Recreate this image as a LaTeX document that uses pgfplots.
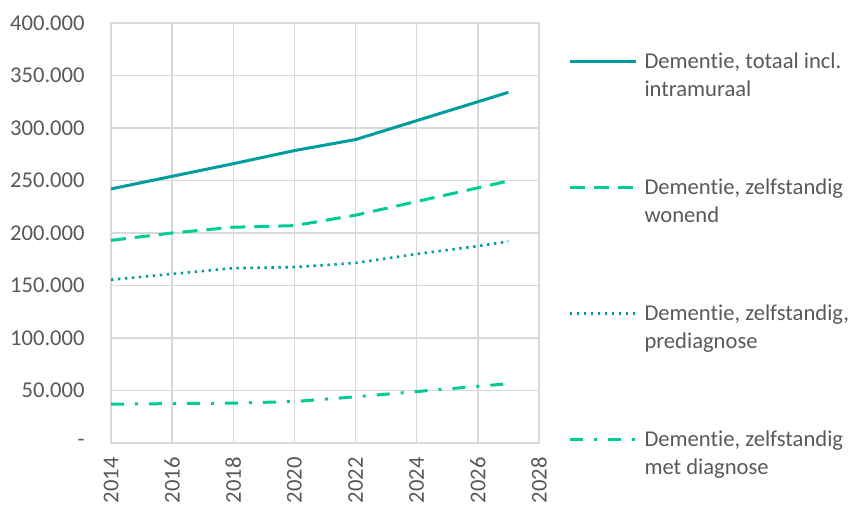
\documentclass[border=0pt]{standalone}
\usepackage{pgfplots}
\pgfplotsset{compat=1.18}
\usepackage{fontspec}
\setmainfont[Ligatures=NoCommon]{Carlito}
\definecolor{teal1}{RGB}{0,156,159}
\definecolor{green1}{RGB}{0,204,150}
\definecolor{txt}{RGB}{89,89,89}
\definecolor{gridc}{RGB}{217,217,217}
\newcommand{\two}[2]{\begin{tabular}[t]{@{}l@{}}#1\\#2\end{tabular}}
\begin{document}
\fontsize{11.3pt}{14pt}\selectfont
\begin{tikzpicture}
\useasboundingbox (-55.5pt,-30.5pt) rectangle (370pt,221.5pt);
\begin{axis}[
  at={(0,0)}, anchor=south west,
  scale only axis, width=214pt, height=210pt,
  xmin=2014, xmax=2028, ymin=0, ymax=400000,
  scaled y ticks=false,
  xtick={2014,2016,...,2028},
  ytick={0,50000,...,400000},
  yticklabels={-\hspace{6pt},50.000,100.000,150.000,200.000,250.000,300.000,350.000,400.000},
  xticklabels={2014,2016,2018,2020,2022,2024,2026,2028},
  xticklabel style={yshift=-7pt, rotate=90, anchor=east, inner sep=0pt, text=txt},
  yticklabel style={anchor=east, inner sep=0pt, xshift=-13pt, text=txt},
  grid=major,
  major grid style={draw=gridc, line width=0.75pt},
  axis line style={draw=gridc, line width=0.75pt},
  major tick length=0pt,
  legend style={at={(1.068,0.940)}, anchor=north west, draw=none, fill=none,
    inner sep=0pt, row sep=51.5pt, column sep=3.5pt,
    nodes={inner sep=0pt},
    cells={anchor=base west, text=txt}},
  legend image code/.code={\draw[#1] (0pt,0.3em) -- (33pt,0.3em);},
]
\addplot[teal1, line width=1.5pt] coordinates {
 (2014,242000) (2016,254000) (2018,266000) (2020,278500) (2022,289000) (2024,307000) (2026,325000) (2027,334000)};
\addlegendentry{\two{Dementie, totaal incl.}{intramuraal}}
\addplot[green1, line width=1.5pt, dash pattern=on 7.5pt off 4.5pt] coordinates {
 (2014,193000) (2016,200000) (2018,205500) (2020,207000) (2022,217000) (2024,230000) (2026,243000) (2027,249500)};
\addlegendentry{\two{Dementie, zelfstandig}{wonend}}
\addplot[teal1, line width=1.3pt, dash pattern=on 1.2pt off 2.3pt] coordinates {
 (2014,155500) (2016,161000) (2018,166500) (2020,167500) (2022,171500) (2024,180000) (2026,187500) (2027,192000)};
\addlegendentry{\two{Dementie, zelfstandig,}{prediagnose}}
\addplot[green1, line width=1.5pt, dash pattern=on 6.5pt off 5.5pt on 1.5pt off 5.5pt] coordinates {
 (2014,37000) (2016,37500) (2018,38000) (2020,39500) (2022,44000) (2024,49000) (2026,54000) (2027,56500)};
\addlegendentry{\two{Dementie, zelfstandig}{met diagnose}}
\end{axis}
\end{tikzpicture}
\end{document}
